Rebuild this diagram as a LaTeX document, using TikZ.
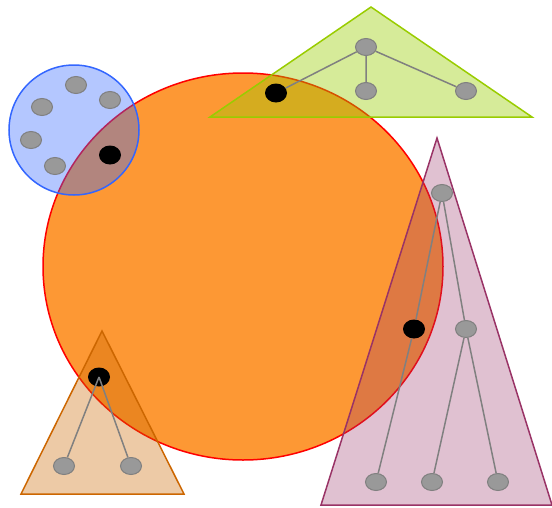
\documentclass[tikz,border=0pt]{standalone}
\usetikzlibrary{shapes.geometric}
\definecolor{orfill}{RGB}{253,152,52}
\definecolor{bluec}{HTML}{3366FF}
\definecolor{greenc}{HTML}{99CC00}
\definecolor{brownc}{HTML}{CC6600}
\definecolor{purplec}{HTML}{993366}
\definecolor{nodegray}{HTML}{999999}
\definecolor{edgegray}{HTML}{808080}
\tikzset{
  gnode/.style={ellipse, draw=edgegray, fill=nodegray, line width=1pt, minimum width=21pt, minimum height=17pt, inner sep=0pt},
  bnode/.style={ellipse, fill=black, minimum width=22pt, minimum height=19pt, inner sep=0pt},
  tedge/.style={draw=edgegray, line width=1.5pt},
}
\begin{document}
\begin{tikzpicture}[x=1pt,y=-1pt]
\useasboundingbox (0,0) rectangle (552,507);
% orange circle
\draw[red, line width=1.5pt, fill=orfill] (243,266.5) ellipse [x radius=200, y radius=193.5];
% blue circle
\draw[bluec, line width=1.5pt, fill=bluec, fill opacity=0.37] (74,130) circle [radius=65];
% green triangle
\draw[greenc, line width=1.5pt, fill=greenc, fill opacity=0.4] (210,117) -- (371,7) -- (532,117) -- cycle;
% brown triangle
\draw[brownc, line width=1.5pt, fill=brownc, fill opacity=0.35] (21,494) -- (102,331) -- (184,494) -- cycle;
% purple triangle
\draw[purplec, line width=1.5pt, fill=purplec, fill opacity=0.3] (321,505) -- (437,138) -- (552,505) -- cycle;
% blue circle nodes
\node[gnode] (c1) at (76,85) {};
\node[gnode] (c2) at (110,100) {};
\node[gnode] (c3) at (42,107) {};
\node[gnode] (c4) at (31,140) {};
\node[gnode] (c5) at (55,166) {};
\node[bnode] (c6) at (110,155) {};
% green tree
\node[gnode] (gt) at (366,47) {};
\node[bnode] (ga) at (276,93) {};
\node[gnode] (gb) at (366,91) {};
\node[gnode] (gc) at (466,91) {};
\path[tedge] (gt) -- (ga) (gt) -- (gb) (gt) -- (gc);
% brown tree
\node[bnode] (ot) at (99,377) {};
\node[gnode] (oa) at (64,466) {};
\node[gnode] (ob) at (131,466) {};
\path[tedge] (ot.center) -- (oa) (ot.center) -- (ob);
% purple tree
\node[gnode] (pt) at (442,193) {};
\node[bnode] (pa) at (414,329) {};
\node[gnode] (pb) at (466,329) {};
\node[gnode] (p1) at (376,482) {};
\node[gnode] (p2) at (432,482) {};
\node[gnode] (p3) at (498,482) {};
\path[tedge] (pt) -- (pa) (pt) -- (pb) (pa) -- (p1) (pb) -- (p2) (pb) -- (p3);
\end{tikzpicture}
\end{document}
